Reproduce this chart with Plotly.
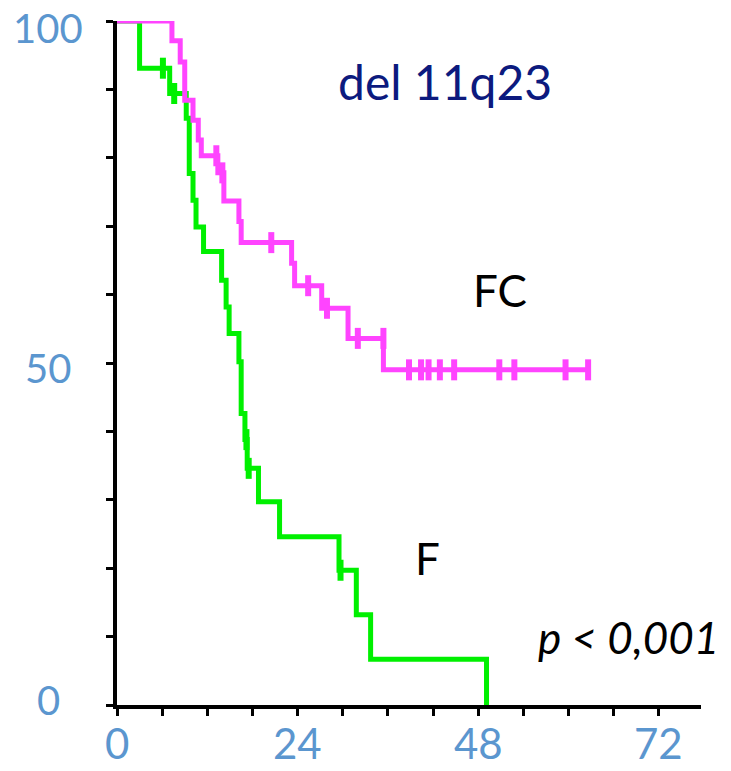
import plotly.graph_objects as go

# ---- data (months, % event-free) ----
fc_times = [0, 7.3, 8.4, 9.0, 10.1, 10.8, 11.2, 13.4, 14.2, 16.2, 16.5, 23.2, 23.6, 27.2, 30.7, 35.4, 62.8]
fc_surv = [100, 97.1, 94.0, 88.4, 85.5, 82.6, 80.3, 77.8, 73.7, 70.7, 67.6, 64.6, 61.3, 58.0, 53.6, 49.0, 49.0]
fc_cens_t = [13.2, 14.0, 20.5, 25.4, 27.9, 32.0, 35.4, 38.8, 40.4, 41.4, 42.9, 44.8, 50.8, 52.8, 59.6, 62.6]
fc_cens_s = [80.3, 77.8, 67.6, 61.3, 58.0, 53.6, 53.6, 49.0, 49.0, 49.0, 49.0, 49.0, 49.0, 49.0, 49.0, 49.0]

f_times = [0, 3.0, 7.0, 9.2, 9.6, 10.1, 10.5, 11.5, 13.9, 14.5, 14.9, 16.2, 16.5, 17.0, 17.3, 18.8, 21.6, 29.5, 31.8, 33.7, 49.1]
f_surv = [100, 93.1, 89.4, 85.8, 77.7, 73.8, 69.9, 66.3, 62.1, 58.2, 54.3, 50.2, 42.6, 38.8, 34.6, 29.7, 24.6, 19.7, 13.2, 6.7, 0]
f_cens_t = [6.1, 7.6, 17.2, 17.5, 29.7]
f_cens_s = [93.1, 89.4, 38.8, 34.6, 19.7]

x_tick_vals = list(range(0, 73, 6))
x_label_vals = [0, 24, 48, 72]
y_tick_vals = list(range(0, 101, 10))
y_label_vals = [0, 50, 100]

PINK = "#FF44FF"
GREEN = "#00F000"
LABEL_BLUE = "#5B96CF"
FONT = "Lato"

fig = go.Figure()

fig.add_trace(go.Scatter(x=f_times, y=f_surv, mode="lines", line=dict(color=GREEN, width=5, shape="hv"),
                         cliponaxis=False, showlegend=False))
fig.add_trace(go.Scatter(x=f_cens_t, y=f_cens_s, mode="markers", cliponaxis=False, showlegend=False,
                         marker=dict(symbol="line-ns-open", size=15, color=GREEN, line=dict(color=GREEN, width=6))))
fig.add_trace(go.Scatter(x=fc_times, y=fc_surv, mode="lines", line=dict(color=PINK, width=5, shape="hv"),
                         cliponaxis=False, showlegend=False))
fig.add_trace(go.Scatter(x=fc_cens_t, y=fc_cens_s, mode="markers", cliponaxis=False, showlegend=False,
                         marker=dict(symbol="line-ns-open", size=15, color=PINK, line=dict(color=PINK, width=6))))

annotations = [
    dict(x=43.6, y=91.1, text="del 11q23", showarrow=False, font=dict(family=FONT, size=48, color="#0c1a7e")),
    dict(x=50.9, y=60.7, text="FC", showarrow=False, font=dict(family=FONT, size=44, color="black")),
    dict(x=41.2, y=21.5, text="F", showarrow=False, font=dict(family=FONT, size=44, color="black")),
    dict(x=67.9, y=9.9, text="<i>p < 0,001</i>", showarrow=False, font=dict(family=FONT, size=44, color="black")),
]
for v in y_label_vals:
    annotations.append(dict(x=-0.118, xref="paper", y=v, yref="y", text=str(v), showarrow=False,
                            xanchor="center", yshift=-7 if v == 100 else (-5 if v == 50 else 5),
                            font=dict(family=FONT, size=40, color=LABEL_BLUE)))
for v in x_label_vals:
    annotations.append(dict(x=v, xref="x", y=-0.055, yref="paper", text=str(v), showarrow=False,
                            xanchor="center", yanchor="middle",
                            font=dict(family=FONT, size=42, color=LABEL_BLUE)))

fig.update_layout(
    width=731, height=771,
    margin=dict(l=117, r=30, t=21, b=66, autoexpand=False),
    plot_bgcolor="white", paper_bgcolor="white",
    annotations=annotations,
    xaxis=dict(range=[0, 77.6], showgrid=False, zeroline=False, showline=True, linecolor="black", linewidth=4,
               tickmode="array", tickvals=x_tick_vals, ticktext=[""] * len(x_tick_vals), ticks="outside",
               ticklen=7, tickwidth=3, tickcolor="black", automargin=False),
    yaxis=dict(range=[0, 100], showgrid=False, zeroline=False, showline=True, linecolor="black", linewidth=4,
               tickmode="array", tickvals=y_tick_vals, ticktext=[""] * len(y_tick_vals), ticks="outside",
               ticklen=7, tickwidth=3, tickcolor="black", automargin=False),
)

fig.write_html("out.html")
